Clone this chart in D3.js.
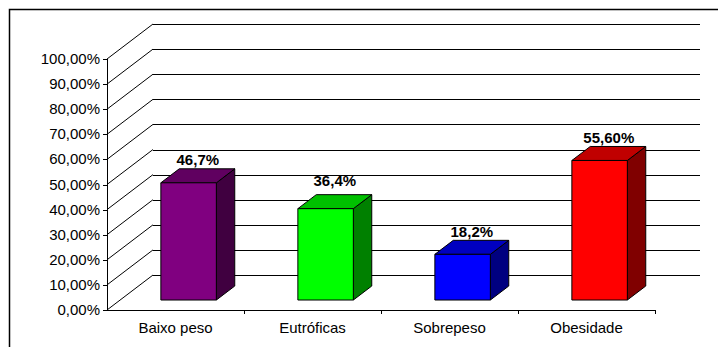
<!DOCTYPE html>
<html>
<head>
<meta charset="utf-8">
<script src="https://cdn.jsdelivr.net/npm/d3@7/dist/d3.min.js"></script>
<style>
  html, body { margin: 0; padding: 0; background: #fff; }
  svg { display: block; }
  text { font-family: Arial, "Liberation Sans", sans-serif; fill: #000; }
</style>
</head>
<body>
<svg id="chart" width="718" height="347"></svg>
<script>
// Categories and values (share of group, 0..1)
const categories = ["Baixo peso", "Eutróficas", "Sobrepeso", "Obesidade"];
const values = [0.467, 0.364, 0.182, 0.556];
const valueLabels = ["46,7%", "36,4%", "18,2%", "55,60%"];
const tickValues = [0, 0.1, 0.2, 0.3, 0.4, 0.5, 0.6, 0.7, 0.8, 0.9, 1.0];
const tickLabels = ["0,00%", "10,00%", "20,00%", "30,00%", "40,00%", "50,00%",
                    "60,00%", "70,00%", "80,00%", "90,00%", "100,00%"];
const frontColors = ["#800080", "#00ff00", "#0000ff", "#ff0000"];
const topColors   = ["#600060", "#00c000", "#0000c0", "#c00000"];
const sideColors  = ["#400040", "#008000", "#000080", "#800000"];

const svg = d3.select("#chart");

// Layout of the 3D box
const depthX = 46, depthY = 35;      // full depth of the floor/walls
const barDepth0 = 0.285, barDepth1 = 0.685; // bar front/back as fraction of depth
const wallRight = 700;

const x = d3.scaleBand().domain(categories).range([107, 655]).paddingInner(0).paddingOuter(0);
const y = d3.scaleLinear().domain([0, 1]).range([310, 59]);
const barW = x.bandwidth() * 0.405;

// point projected back into the depth of the chart
const P = (px, v, d) => [px + d * depthX, y(v) - d * depthY];

// outer frame
svg.append("rect")
  .attr("x", 9.5).attr("y", 9.5)
  .attr("width", 760).attr("height", 400)
  .attr("fill", "none").attr("stroke", "#000").attr("stroke-width", 1.5);

const grid = svg.append("g").attr("shape-rendering", "crispEdges");
// back-wall gridlines
grid.selectAll("line.h").data(tickValues).join("line")
  .attr("class", "h")
  .attr("x1", P(107, 0, 1)[0]).attr("x2", wallRight)
  .attr("y1", d => Math.round(P(107, d, 1)[1]) + 0.5)
  .attr("y2", d => Math.round(P(107, d, 1)[1]) + 0.5)
  .attr("stroke", "#000").attr("stroke-width", 1);

// side-wall diagonals
svg.append("g").selectAll("line").data(tickValues).join("line")
  .attr("x1", 107).attr("y1", d => y(d))
  .attr("x2", P(107, 0, 1)[0]).attr("y2", d => P(107, d, 1)[1])
  .attr("stroke", "#000").attr("stroke-width", 1);

// value axis
const axisG = svg.append("g").attr("shape-rendering", "crispEdges");
axisG.append("line")
  .attr("x1", 107.5).attr("x2", 107.5).attr("y1", y(1)).attr("y2", y(0) + 0.5)
  .attr("stroke", "#000");
axisG.selectAll("line.tk").data(tickValues).join("line")
  .attr("class", "tk")
  .attr("x1", 103).attr("x2", 107.5)
  .attr("y1", d => Math.round(y(d)) + 0.5).attr("y2", d => Math.round(y(d)) + 0.5)
  .attr("stroke", "#000");
svg.append("g").selectAll("text").data(tickValues).join("text")
  .attr("x", 100).attr("y", d => y(d) + 5)
  .attr("text-anchor", "end")
  .attr("font-size", "15px")
  .text((d, i) => tickLabels[i]);

// category axis
axisG.append("line")
  .attr("x1", 107).attr("x2", 655.5).attr("y1", 310.5).attr("y2", 310.5)
  .attr("stroke", "#000");
const bounds = categories.map(c => x(c) + x.bandwidth());
axisG.selectAll("line.ct").data(bounds).join("line")
  .attr("class", "ct")
  .attr("x1", d => Math.round(d) + 0.5).attr("x2", d => Math.round(d) + 0.5)
  .attr("y1", 310.5).attr("y2", 314)
  .attr("stroke", "#000");
svg.append("g").selectAll("text").data(categories).join("text")
  .attr("x", d => x(d) + x.bandwidth() / 2)
  .attr("y", 333)
  .attr("text-anchor", "middle")
  .attr("font-size", "15px")
  .text(d => d);

// 3D bars
const bars = svg.append("g").selectAll("g").data(categories).join("g");
const poly = pts => pts.map(p => p.join(",")).join(" ");
bars.each(function (c, i) {
  const g = d3.select(this);
  const xl = x(c) + (x.bandwidth() - barW) / 2;
  const xr = xl + barW;
  const v = values[i];
  const fTL = P(xl, v, barDepth0), fTR = P(xr, v, barDepth0);
  const fBR = P(xr, 0, barDepth0), fBL = P(xl, 0, barDepth0);
  const bTL = P(xl, v, barDepth1), bTR = P(xr, v, barDepth1);
  const bBR = P(xr, 0, barDepth1);
  g.append("polygon").attr("points", poly([fTR, bTR, bBR, fBR]))
    .attr("fill", sideColors[i]).attr("stroke", "#000").attr("stroke-width", 1)
    .attr("stroke-linejoin", "round");
  g.append("polygon").attr("points", poly([fTL, fTR, bTR, bTL]))
    .attr("fill", topColors[i]).attr("stroke", "#000").attr("stroke-width", 1)
    .attr("stroke-linejoin", "round");
  g.append("polygon").attr("points", poly([fTL, fTR, fBR, fBL]))
    .attr("fill", frontColors[i]).attr("stroke", "#000").attr("stroke-width", 1)
    .attr("stroke-linejoin", "round");
});

// value labels above each bar
const labelNudge = { "Eutróficas": -5 };
svg.append("g").selectAll("text").data(categories).join("text")
  .attr("x", (c) => x(c) + x.bandwidth() / 2 + (barDepth0 + barDepth1) / 2 * depthX)
  .attr("y", (c, i) => P(0, values[i], barDepth1)[1] - 3.5 + (labelNudge[c] || 0))
  .attr("text-anchor", "middle")
  .attr("font-size", "15px")
  .attr("font-weight", "bold")
  .text((c, i) => valueLabels[i]);
</script>
</body>
</html>
